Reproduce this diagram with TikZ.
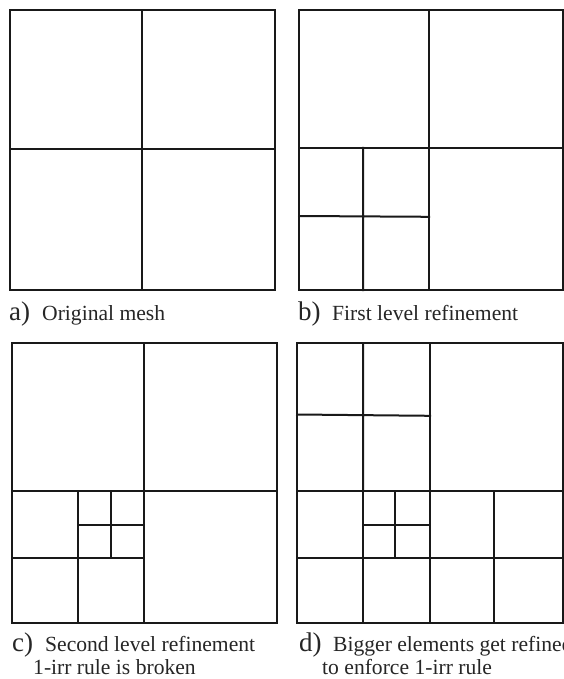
\documentclass[tikz,border=0pt]{standalone}
\usepackage{fontspec}
\setmainfont{Liberation Serif}
\begin{document}
\begin{tikzpicture}[x=1pt,y=-1pt,
  mesh/.style={line width=2pt,color=black!90,line cap=rect},
  txt/.style={anchor=base west,inner sep=0pt,font=\fontsize{21.6}{25}\selectfont,color=black!85},
  let/.style={anchor=base west,inner sep=0pt,font=\fontsize{27}{30}\selectfont,color=black!85}]
\useasboundingbox[fill=white] (0,0) rectangle (564,679);
% a) original mesh
\draw[mesh] (10,10) rectangle (275,290);
\draw[mesh] (142,10) -- (142,290) (10,149) -- (275,149);
% b) first level refinement
\draw[mesh] (299,10) rectangle (563,290);
\draw[mesh] (429,10) -- (429,290) (299,148) -- (563,148);
\draw[mesh] (363,148) -- (363,290) (299,216) -- (429,216.8);
% c) second level refinement
\draw[mesh] (12,343) rectangle (277,623);
\draw[mesh] (144,343) -- (144,623) (12,491) -- (277,491);
\draw[mesh] (78,491) -- (78,623) (12,558) -- (144,558);
\draw[mesh] (111,491) -- (111,558) (78,525) -- (144,525);
% d) bigger elements refined
\draw[mesh] (297,343) rectangle (563,623);
\draw[mesh] (430,343) -- (430,623) (297,491) -- (563,491);
\draw[mesh] (363,343) -- (363,491) (297,414.5) -- (430,415.8);
\draw[mesh] (363,491) -- (363,623) (297,558) -- (430,558);
\draw[mesh] (395,491) -- (395,558) (363,525) -- (430,525);
\draw[mesh] (494,491) -- (494,623) (430,558) -- (563,558);
% labels
\node[let] (la) at (9,320) {a)};
\node[txt] (ta) at (42,320) {Original mesh};
\node[let] (lb) at (298,320) {b)};
\node[txt] (tb) at (332,320) {First level refinement};
\node[let] (lc) at (12,651) {c)};
\node[txt] (tc) at (45,651) {Second level refinement};
\node[txt] (tc2) at (33,674) {1-irr rule is broken};
\node[let] (ld) at (299,651) {d)};
\node[txt] (td) at (333,651) {Bigger elements get refined};
\node[txt] (td2) at (322,674) {to enforce 1-irr rule};
\end{tikzpicture}
\end{document}
